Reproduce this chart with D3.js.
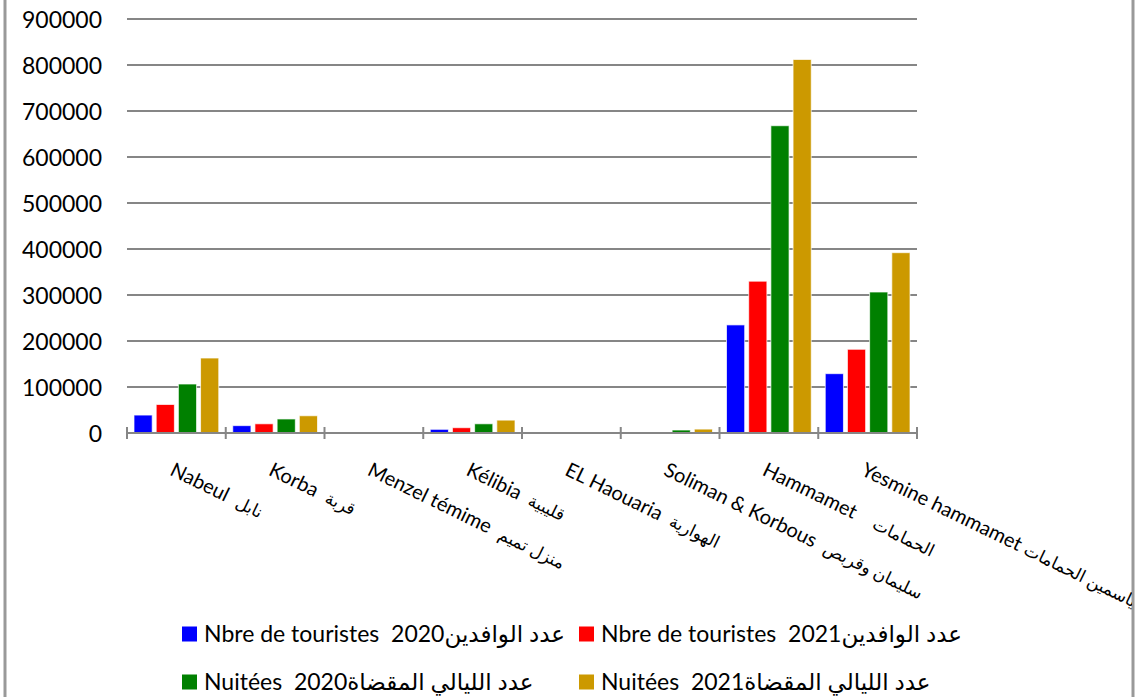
<!DOCTYPE html>
<meta charset="utf-8">
<script src="https://d3js.org/d3.v7.min.js"></script>
<style>
  body { margin: 0; background: #fff; }
  text { font-family: Lato, "DejaVu Sans", sans-serif; fill: #000; white-space: pre; }
</style>
<div id="chart"></div>
<script>

// categories (French + Arabic names)
const places = ["Nabeul", "Korba", "Menzel témime", "Kélibia", "EL Haouaria", "Soliman & Korbous", "Hammamet", "Yesmine hammamet"];
const placesAr = ["نابل", "قربة", "منزل تميم", "قليبية", "الهوارية", "سليمان وقربص", "الحمامات", "ياسمين الحمامات"];

// series values
const tourists2020 = [39000, 16000, 0, 8000, 0, 0, 235000, 129000];
const tourists2021 = [62000, 20000, 0, 11500, 0, 2000, 330000, 182000];
const nights2020   = [106500, 30500, 0, 20000, 0, 6500, 668000, 306500];
const nights2021   = [163000, 37500, 0, 28000, 0, 8500, 812000, 392000];

const seriesNames = ["Nbre de touristes  2020", "Nbre de touristes  2021", "Nuitées  2020", "Nuitées  2021"];
const seriesAr = ["عدد الوافدين", "عدد الوافدين", "عدد الليالي المقضاة", "عدد الليالي المقضاة"];
const seriesColors = ["#0000ff", "#ff0000", "#008000", "#cc9900"];

const yTicks = [0, 100000, 200000, 300000, 400000, 500000, 600000, 700000, 800000, 900000];

const series = [tourists2020, tourists2021, nights2020, nights2021];

const W = 1137, H = 697;
const plot = {left: 127, right: 917, top: 19, bottom: 433};

const svg = d3.select("#chart").append("svg")
  .attr("width", W)
  .attr("height", H);

svg.append("defs").append("clipPath")
  .attr("id", "inner")
  .append("rect")
    .attr("x", 6).attr("y", 0)
    .attr("width", 1126).attr("height", H);

// chart border (only sides visible)
svg.append("line").attr("x1", 5).attr("x2", 5).attr("y1", 0).attr("y2", H)
  .attr("stroke", "#999").attr("stroke-width", 3);
svg.append("line").attr("x1", 1133).attr("x2", 1133).attr("y1", 0).attr("y2", H)
  .attr("stroke", "#999").attr("stroke-width", 3);

const y = d3.scaleLinear()
  .domain([0, 900000])
  .range([plot.bottom, plot.top]);

const x0 = d3.scaleBand()
  .domain(places)
  .range([plot.left, plot.right])
  .padding(0);

const bw = x0.bandwidth();
const x1 = d3.scaleBand()
  .domain(d3.range(series.length))
  .range([7, bw - 7])
  .paddingInner(0.18);

// gridlines
svg.append("g")
  .selectAll("line")
  .data(yTicks.filter(d => d > 0))
  .join("line")
    .attr("x1", plot.left)
    .attr("x2", plot.right)
    .attr("y1", d => y(d))
    .attr("y2", d => y(d))
    .attr("stroke", "#868686")
    .attr("stroke-width", 2);

// y labels
const yAxis = svg.append("g")
  .attr("transform", `translate(${plot.left - 25},0)`)
  .call(d3.axisLeft(y).tickValues(yTicks).tickSize(0).tickPadding(0).tickFormat(d3.format("d")));
yAxis.select(".domain").remove();
yAxis.selectAll("text")
  .attr("font-size", 23)
  .attr("font-family", "Lato, sans-serif")
  .attr("fill", "#000")
  .attr("dy", "0.36em");

// bars
const groups = svg.append("g")
  .selectAll("g")
  .data(places)
  .join("g")
    .attr("transform", d => `translate(${x0(d)},0)`);

groups.selectAll("rect")
  .data((d, i) => series.map((s, k) => ({k: k, v: s[i]})))
  .join("rect")
    .attr("x", d => x1(d.k))
    .attr("width", x1.bandwidth())
    .attr("y", d => y(d.v))
    .attr("height", d => y(0) - y(d.v))
    .attr("fill", d => seriesColors[d.k])
    .attr("stroke", "#ffffff")
    .attr("stroke-opacity", 0.7)
    .attr("stroke-width", 1);

// x axis line with cross ticks
const xAxis = svg.append("g");
xAxis.append("line")
  .attr("x1", plot.left).attr("x2", plot.right)
  .attr("y1", y(0)).attr("y2", y(0))
  .attr("stroke", "#868686").attr("stroke-width", 2);
xAxis.selectAll(".tk")
  .data(places.map(p => x0(p)).concat([plot.right]))
  .join("line")
    .attr("class", "tk")
    .attr("x1", d => d).attr("x2", d => d)
    .attr("y1", y(0) - 6).attr("y2", y(0) + 6)
    .attr("stroke", "#868686").attr("stroke-width", 2);

// rotated category labels (French then Arabic)
const catLabels = svg.append("g")
  .attr("clip-path", "url(#inner)")
  .selectAll("text")
  .data(places)
  .join("text")
    .attr("transform", d => `translate(${x0(d) + bw / 2 - 1},${plot.bottom + 28}) rotate(26)`)
    .attr("text-anchor", "start")
    .attr("font-size", 20)
    .attr("dy", "0.75em");
catLabels.append("tspan")
  .text((d, i) => d + (i === 6 ? "    " : (i === 7 ? " " : "  ")));
catLabels.append("tspan")
  .attr("font-size", 17)
  .text((d, i) => placesAr[i]);

// legend
const legendPos = [[182, 634], [579, 634], [182, 682], [579, 682]];
const legend = svg.append("g")
  .selectAll("g")
  .data(seriesNames)
  .join("g")
    .attr("transform", (d, i) => `translate(${legendPos[i][0]},${legendPos[i][1]})`);

legend.append("rect")
  .attr("x", 0).attr("y", -7.5)
  .attr("width", 15).attr("height", 15)
  .attr("fill", (d, i) => seriesColors[i]);

legend.append("text")
  .attr("x", 22)
  .attr("dy", "0.36em")
  .attr("font-size", 23)
  .attr("direction", "ltr")
  .text((d, i) => d + seriesAr[i]);

</script>
